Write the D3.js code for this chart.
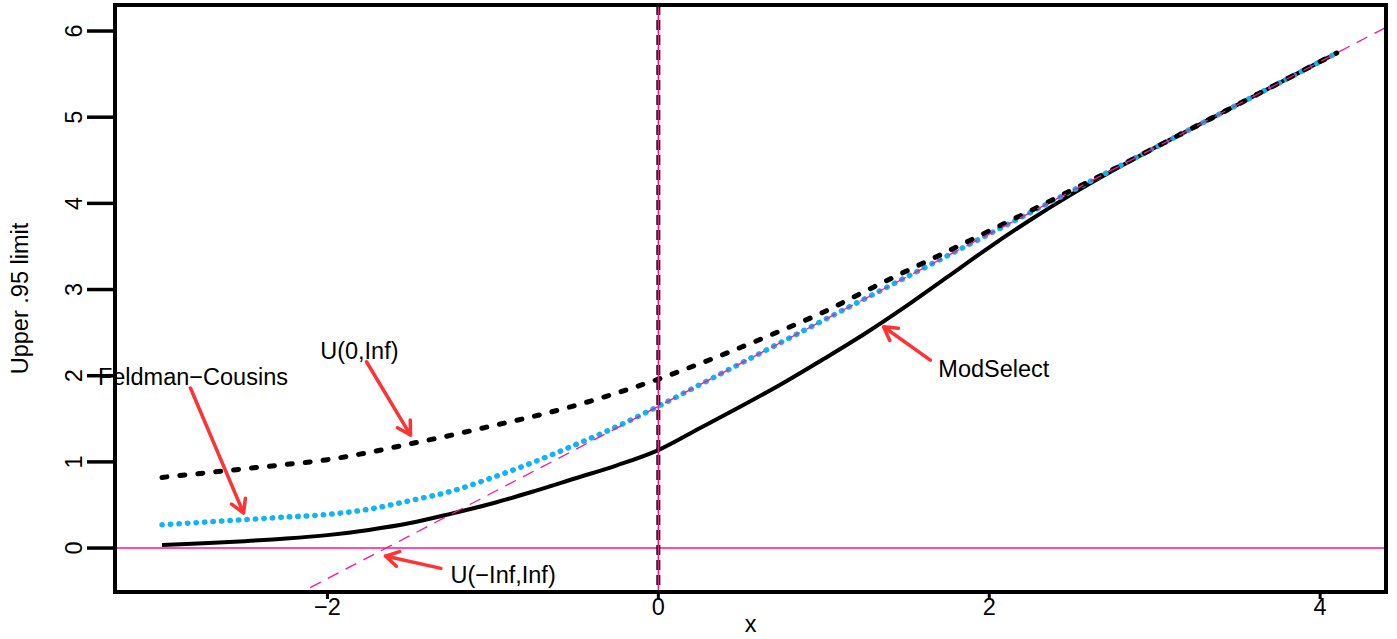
<!DOCTYPE html>
<html>
<head>
<meta charset="utf-8">
<script src="https://cdn.jsdelivr.net/npm/d3@7"></script>
<style>
  body { margin: 0; background: #fff; }
  text { font-family: "Liberation Sans", Arial, Helvetica, sans-serif; font-size: 23.5px; fill: #000; }
</style>
</head>
<body>
<div id="chart"></div>
<script>
// x grid shared by the three curves
var xs = [-3, -2.75, -2.5, -2.25, -2, -1.75, -1.5, -1.25, -1, -0.75, -0.5, -0.25,
  0, 0.25, 0.5, 0.75, 1, 1.25, 1.5, 1.75, 2, 2.25, 2.5, 2.75, 3, 3.25, 3.5, 3.75, 4, 4.1];

// ModSelect (solid black)
var modSelect = [0.035, 0.055, 0.08, 0.11, 0.15, 0.21, 0.29, 0.40, 0.52, 0.66, 0.81, 0.96,
  1.137, 1.39, 1.645, 1.91, 2.195, 2.49, 2.81, 3.15, 3.49, 3.81, 4.107, 4.383, 4.645, 4.895, 5.145, 5.395, 5.645, 5.745];

// U(0,Inf) (dashed black)
var u0Inf = [0.82, 0.87, 0.92, 0.97, 1.025, 1.11, 1.21, 1.31, 1.42, 1.53, 1.655, 1.80,
  1.96, 2.14, 2.33, 2.53, 2.74, 2.98, 3.215, 3.445, 3.68, 3.915, 4.155, 4.395, 4.645, 4.895, 5.145, 5.395, 5.645, 5.745];

// Feldman-Cousins (dotted blue)
var feldmanCousins = [0.27, 0.30, 0.33, 0.36, 0.39, 0.45, 0.55, 0.66, 0.82, 1.00, 1.20, 1.41,
  1.645, 1.895, 2.145, 2.395, 2.645, 2.895, 3.145, 3.395, 3.645, 3.895, 4.145, 4.395, 4.645, 4.895, 5.145, 5.395, 5.645, 5.745];

// U(-Inf,Inf) reference line y = x + 1.645
var refIntercept = 1.645;
var refSlope = 1;

var xTicks = [-2, 0, 2, 4];
var yTicks = [0, 1, 2, 3, 4, 5, 6];

// annotation labels (text centre) and arrows (tail -> tip), data units
var labels = [
  { text: "Feldman\u2212Cousins", x: -2.813, y: 1.987 },
  { text: "U(0,Inf)", x: -1.807, y: 2.288 },
  { text: "U(\u2212Inf,Inf)", x: -0.938, y: -0.311 },
  { text: "ModSelect", x: 2.028, y: 2.076 }
];
var arrows = [
  { x0: -2.828, y0: 1.857, x1: -2.507, y1: 0.406 },
  { x0: -1.764, y0: 2.162, x1: -1.498, y1: 1.311 },
  { x0: -1.314, y0: -0.236, x1: -1.650, y1: -0.093 },
  { x0: 1.644, y0: 2.181, x1: 1.361, y1: 2.568 }
];

var svgWidth = 1397, svgHeight = 639;
var plot = { left: 115, right: 1386, top: 5, bottom: 592 };

var svg = d3.select("#chart").append("svg")
  .attr("width", svgWidth)
  .attr("height", svgHeight);

var xScale = d3.scaleLinear().domain([-3.284, 4.398]).range([plot.left, plot.right]);
var yScale = d3.scaleLinear().domain([-0.51, 6.302]).range([plot.bottom, plot.top]);

svg.append("defs").append("clipPath").attr("id", "clip")
  .append("rect")
  .attr("x", plot.left).attr("y", plot.top)
  .attr("width", plot.right - plot.left).attr("height", plot.bottom - plot.top);

var inner = svg.append("g").attr("clip-path", "url(#clip)");

function series(vals) {
  return xs.map(function(x, i) { return [x, vals[i]]; });
}
var line = d3.line()
  .x(d => xScale(d[0]))
  .y(d => yScale(d[1]))
  .curve(d3.curveCatmullRom);

// ModSelect
inner.append("path")
  .attr("d", line(series(modSelect)))
  .attr("fill", "none").attr("stroke", "#000").attr("stroke-width", 4);

// Feldman-Cousins
inner.append("path")
  .attr("d", line(series(feldmanCousins)))
  .attr("fill", "none").attr("stroke", "#12b4f0").attr("stroke-width", 5.5)
  .attr("stroke-linecap", "round").attr("stroke-dasharray", "0.5 8");

// U(0,Inf)
inner.append("path")
  .attr("d", line(series(u0Inf)))
  .attr("fill", "none").attr("stroke", "#000").attr("stroke-width", 5)
  .attr("stroke-linecap", "round").attr("stroke-dasharray", "5 13");

// reference lines
var xd = xScale.domain();
inner.append("line")
  .attr("x1", xScale(xd[0])).attr("y1", yScale(refIntercept + refSlope * xd[0]))
  .attr("x2", xScale(xd[1])).attr("y2", yScale(refIntercept + refSlope * xd[1]))
  .attr("stroke", "#ff1493").attr("stroke-width", 1.3).attr("stroke-dasharray", "12 8");

inner.append("line")
  .attr("x1", plot.left).attr("x2", plot.right)
  .attr("y1", yScale(0)).attr("y2", yScale(0))
  .attr("stroke", "#ff1493").attr("stroke-width", 1.5);

inner.append("line")
  .attr("x1", xScale(0)).attr("x2", xScale(0))
  .attr("y1", plot.top).attr("y2", plot.bottom)
  .attr("stroke", "#000").attr("stroke-width", 4).attr("stroke-dasharray", "10 5");

inner.append("line")
  .attr("x1", xScale(0)).attr("x2", xScale(0))
  .attr("y1", plot.top).attr("y2", plot.bottom)
  .attr("stroke", "#ff1493").attr("stroke-width", 1.5);

// arrows
var red = "#ff3333";
var headLen = 15, headAng = Math.PI / 6;
arrows.forEach(function(a) {
  var x0 = xScale(a.x0), y0 = yScale(a.y0), x1 = xScale(a.x1), y1 = yScale(a.y1);
  var ang = Math.atan2(y1 - y0, x1 - x0);
  var p = d3.path();
  p.moveTo(x0, y0); p.lineTo(x1, y1);
  p.moveTo(x1 - headLen * Math.cos(ang - headAng), y1 - headLen * Math.sin(ang - headAng));
  p.lineTo(x1, y1);
  p.lineTo(x1 - headLen * Math.cos(ang + headAng), y1 - headLen * Math.sin(ang + headAng));
  svg.append("path")
    .attr("d", p.toString())
    .attr("fill", "none").attr("stroke", red).attr("stroke-width", 3.5)
    .attr("stroke-linecap", "round").attr("stroke-linejoin", "round");
});

// labels
svg.selectAll(".lab").data(labels).enter().append("text")
  .attr("class", "lab")
  .attr("x", d => xScale(d.x))
  .attr("y", d => yScale(d.y))
  .attr("dy", "0.35em")
  .attr("text-anchor", "middle")
  .text(d => d.text);

// frame
svg.append("rect")
  .attr("x", plot.left).attr("y", plot.top)
  .attr("width", plot.right - plot.left).attr("height", plot.bottom - plot.top)
  .attr("fill", "none").attr("stroke", "#000").attr("stroke-width", 4);

// y axis
var yAxis = svg.append("g");
yAxis.selectAll("line").data(yTicks).enter().append("line")
  .attr("x1", 87).attr("x2", plot.left)
  .attr("y1", d => yScale(d)).attr("y2", d => yScale(d))
  .attr("stroke", "#000").attr("stroke-width", 3.5);
yAxis.selectAll("text").data(yTicks).enter().append("text")
  .attr("transform", d => "translate(82," + yScale(d) + ") rotate(-90)")
  .attr("text-anchor", "middle")
  .text(d => d);

// x axis
var xAxis = svg.append("g");
xAxis.selectAll("line").data(xTicks).enter().append("line")
  .attr("x1", d => xScale(d)).attr("x2", d => xScale(d))
  .attr("y1", plot.bottom).attr("y2", plot.bottom + 7)
  .attr("stroke", "#000").attr("stroke-width", 3);
xAxis.selectAll("text").data(xTicks).enter().append("text")
  .attr("x", d => xScale(d))
  .attr("y", 615)
  .attr("text-anchor", "middle")
  .text(d => d < 0 ? "\u2212" + Math.abs(d) : d);

// axis titles
svg.append("text")
  .attr("x", (plot.left + plot.right) / 2)
  .attr("y", 632)
  .attr("text-anchor", "middle")
  .text("x");

svg.append("text")
  .attr("transform", "translate(28," + (plot.top + plot.bottom) / 2 + ") rotate(-90)")
  .attr("text-anchor", "middle")
  .text("Upper .95 limit");
</script>
</body>
</html>
